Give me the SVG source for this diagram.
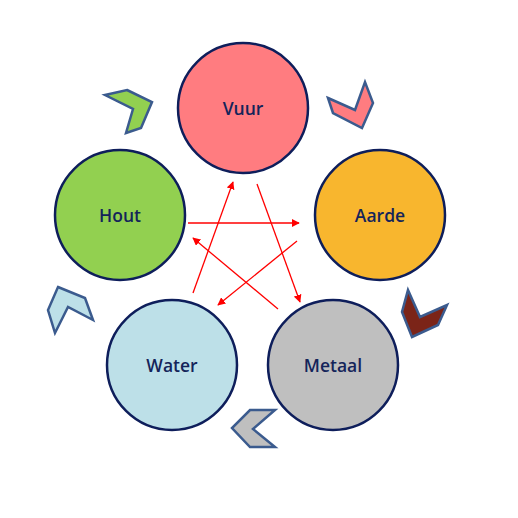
<svg xmlns="http://www.w3.org/2000/svg" width="518" height="518" viewBox="0 0 518 518">
<style>
.n{stroke:#0E1E5B;stroke-width:2.5}
.t{font-family:"Open Sans",sans-serif;font-weight:600;font-size:17.5px;fill:#14245A;text-anchor:middle;dominant-baseline:central}
.c{stroke:#3B5B8E;stroke-width:2.5;stroke-linejoin:miter}
.a{stroke:#FF0000;stroke-width:1.3;fill:none;marker-end:url(#ah)}
</style>
<defs>
<marker id="ah" viewBox="0 0 10 10" refX="9" refY="5" markerWidth="8" markerHeight="8" orient="auto" markerUnits="userSpaceOnUse">
<path d="M0,0 L10,5 L0,10 Z" fill="#FF0000"/>
</marker>
</defs>
<rect width="518" height="518" fill="#FFFFFF"/>
<g id="chevrons">
<polygon class="c" fill="#92D050" points="127,90 152,102 141,128 126,133 133,109 105,95"/>
<polygon class="c" fill="#FF7C80" points="328,98 355,110 365,82 373,103 362,128 333,113"/>
<polygon class="c" fill="#7B2418" points="408,290 420,317 447,305 438,325 412,337 402,312"/>
<polygon class="c" fill="#BFBFBF" points="250,410 275,410 253,429 275,447 250,447 232,428"/>
<polygon class="c" fill="#BDE0E8" points="58,287 85,298 93,320 68,307 55,333 48,310"/>
</g>
<g id="vuur"><circle class="n" cx="243" cy="108" r="65" fill="#FF7C80"/><text class="t" x="243" y="108">Vuur</text></g>
<g id="hout"><circle class="n" cx="120" cy="215" r="65" fill="#92D050"/><text class="t" x="120" y="215">Hout</text></g>
<g id="aarde"><circle class="n" cx="380" cy="215" r="65" fill="#F8B62E"/><text class="t" x="380" y="215">Aarde</text></g>
<g id="water"><circle class="n" cx="172" cy="365" r="65" fill="#BDE0E8"/><text class="t" x="172" y="365">Water</text></g>
<g id="metaal"><circle class="n" cx="333" cy="365" r="65" fill="#BFBFBF"/><text class="t" x="333" y="365">Metaal</text></g>
<g id="connectors">
<line class="a" x1="193" y1="293" x2="233" y2="182"/>
<line class="a" x1="257" y1="184" x2="300" y2="302"/>
<line class="a" x1="188" y1="223" x2="299" y2="223"/>
<line class="a" x1="297" y1="241" x2="218" y2="305"/>
<line class="a" x1="278" y1="309" x2="193" y2="238"/>
</g>
</svg>
